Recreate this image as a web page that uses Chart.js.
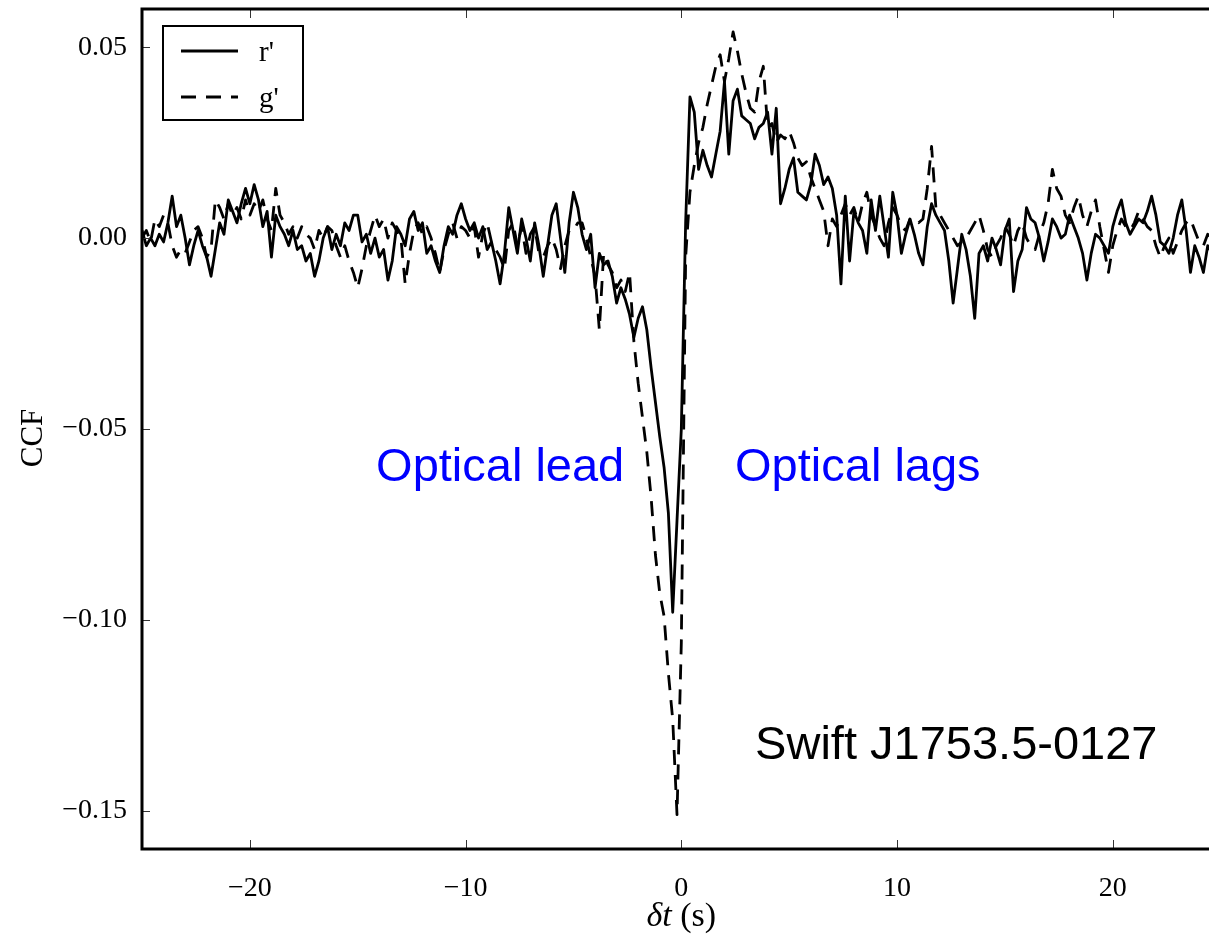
<!DOCTYPE html>
<html><head><meta charset="utf-8">
<script src="https://cdn.jsdelivr.net/npm/chart.js@4.4.0/dist/chart.umd.min.js"></script>
<style>html,body{margin:0;padding:0;background:#fff;overflow:hidden}canvas{display:block}</style>
</head><body>
<canvas id="c" width="1209" height="936"></canvas>
<script>
// Lag grid (s): uniform sampling from LAG_START in steps of LAG_STEP
const LAG_START = -25;
const LAG_STEP = 0.2;

// r' CCF values, one per lag
const rVals = [
  0.002, -0.002, 0.000, -0.002, 0.001, -0.001, 0.004, 0.011, 0.003, 0.006,
  0.000, -0.007, -0.002, 0.002, -0.002, -0.005, -0.010, -0.003, 0.004, 0.001,
  0.010, 0.007, 0.004, 0.009, 0.013, 0.009, 0.014, 0.010, 0.003, 0.007,
  -0.005, 0.006, 0.003, 0.001, -0.002, 0.002, -0.003, -0.002, -0.006, -0.004,
  -0.010, -0.006, 0.000, 0.003, -0.003, 0.001, -0.002, 0.004, 0.002, 0.006,
  0.006, -0.001, 0.001, -0.004, 0.000, -0.005, -0.003, -0.011, -0.006, 0.003,
  0.001, -0.002, 0.005, 0.007, 0.002, 0.004, -0.004, -0.002, -0.006, -0.009,
  -0.002, 0.003, 0.001, 0.006, 0.009, 0.005, 0.002, 0.004, 0.000, 0.003,
  -0.003, -0.001, -0.006, -0.012, -0.004, 0.008, 0.002, -0.004, 0.005, 0.000,
  -0.006, 0.004, -0.002, -0.010, -0.002, 0.006, 0.009, 0.000, -0.009, 0.004,
  0.012, 0.008, 0.001, -0.003, 0.001, -0.013, -0.004, -0.007, -0.006, -0.010,
  -0.017, -0.013, -0.016, -0.020, -0.026, -0.021, -0.018, -0.024, -0.034, -0.043,
  -0.052, -0.060, -0.072, -0.098, -0.074, -0.050, 0.004, 0.037, 0.033, 0.018,
  0.023, 0.019, 0.016, 0.022, 0.028, 0.041, 0.022, 0.036, 0.039, 0.032,
  0.031, 0.030, 0.026, 0.029, 0.030, 0.033, 0.022, 0.034, 0.009, 0.013,
  0.018, 0.021, 0.012, 0.011, 0.010, 0.014, 0.022, 0.019, 0.014, 0.016,
  0.013, 0.006, -0.012, 0.011, -0.006, 0.007, 0.004, 0.002, -0.004, 0.010,
  0.002, 0.011, 0.003, -0.005, 0.012, 0.006, -0.004, 0.001, 0.005, 0.001,
  -0.004, -0.007, 0.003, 0.009, 0.006, 0.004, 0.002, -0.006, -0.017, -0.008,
  0.001, -0.003, -0.010, -0.021, -0.004, -0.002, -0.006, 0.000, -0.003, -0.007,
  0.002, 0.005, -0.014, -0.006, -0.003, 0.008, 0.005, 0.004, 0.000, -0.006,
  -0.001, 0.005, 0.003, 0.000, 0.001, 0.006, 0.003, 0.000, -0.004, -0.011,
  -0.004, 0.001, 0.000, -0.002, -0.004, 0.003, 0.007, 0.010, 0.004, 0.001,
  0.003, 0.005, 0.004, 0.007, 0.011, 0.006, -0.001, -0.002, -0.004, 0.000,
  0.006, 0.010, 0.002, -0.009, -0.002, -0.005, -0.009, -0.002, -0.004
];

// g' CCF values, one per lag
const gVals = [
  0.000, 0.002, -0.001, 0.005, 0.003, 0.006, 0.004, -0.002, -0.005, -0.003,
  -0.004, -0.001, 0.002, 0.003, 0.000, -0.005, -0.003, 0.010, 0.008, 0.005,
  0.009, 0.006, 0.008, 0.005, 0.010, 0.006, 0.009, 0.007, 0.010, 0.005,
  0.002, 0.013, 0.006, 0.004, 0.001, 0.003, 0.000, 0.003, 0.001, 0.000,
  -0.003, 0.002, 0.000, 0.003, 0.002, -0.002, -0.005, -0.002, -0.006, -0.009,
  -0.013, -0.008, -0.002, 0.002, 0.006, 0.003, 0.005, 0.000, 0.004, 0.002,
  0.000, -0.012, -0.004, 0.002, 0.004, 0.001, 0.003, 0.000, -0.004, -0.009,
  -0.003, 0.001, 0.004, 0.000, 0.003, 0.002, 0.000, 0.003, -0.005, 0.001,
  0.004, -0.001, -0.003, -0.005, -0.008, 0.002, 0.004, -0.002, 0.003, -0.004,
  0.001, 0.003, -0.004, -0.005, -0.002, 0.000, -0.003, -0.008, -0.002, 0.002,
  0.002, 0.004, 0.004, 0.000, -0.005, -0.010, -0.024, -0.004, -0.007, -0.009,
  -0.013, -0.011, -0.014, -0.009, -0.027, -0.038, -0.047, -0.056, -0.068, -0.083,
  -0.093, -0.099, -0.114, -0.126, -0.151, -0.106, -0.005, 0.012, 0.019, 0.025,
  0.029, 0.035, 0.040, 0.045, 0.048, 0.041, 0.047, 0.054, 0.049, 0.043,
  0.038, 0.034, 0.033, 0.041, 0.045, 0.029, 0.030, 0.025, 0.027, 0.026,
  0.028, 0.025, 0.021, 0.019, 0.020, 0.016, 0.013, 0.010, 0.007, -0.002,
  0.005, 0.003, 0.006, 0.009, 0.006, 0.008, 0.004, 0.009, 0.012, 0.006,
  0.003, 0.000, -0.002, 0.004, 0.008, 0.006, 0.003, 0.002, 0.005, 0.005,
  0.004, 0.005, 0.013, 0.024, 0.008, 0.006, 0.004, 0.002, 0.000, -0.002,
  -0.001, 0.000, 0.002, 0.004, 0.006, 0.002, -0.003, -0.005, -0.002, 0.000,
  0.003, 0.001, -0.002, 0.002, 0.004, 0.000, -0.002, -0.003, 0.001, 0.004,
  0.009, 0.018, 0.013, 0.011, 0.006, 0.004, 0.008, 0.011, 0.006, 0.003,
  0.007, 0.010, 0.003, -0.003, -0.009, -0.002, 0.002, 0.005, 0.003, 0.002,
  0.004, 0.007, 0.005, 0.003, 0.002, -0.002, -0.005, -0.002, 0.000, -0.004,
  -0.001, 0.002, 0.004, 0.005, 0.002, -0.001, -0.002, 0.001, 0.000
];

const seriesLabels = ["r'", "g'"];
const xTicks = [-20, -10, 0, 10, 20];
const yTicks = [0.05, 0.00, -0.05, -0.10, -0.15];
const xTitleItalic = "\u03B4t";
const xTitleRest = " (s)";
const yTitle = "CCF";
const annotations = [
  { text: "Optical lead", x: -14.15, y: -0.0636, color: "#0000ff" },
  { text: "Optical lags", x: 2.49, y: -0.0636, color: "#0000ff" },
  { text: "Swift J1753.5-0127", x: 3.42, y: -0.1364, color: "#000000" }
];

const lags = rVals.map((_, i) => +(LAG_START + i * LAG_STEP).toFixed(2));
const toPts = vals => vals.map((v, i) => ({ x: lags[i], y: v }));
const minus = s => String(s).replace('-', '\u2212');

const SERIF = "'Liberation Serif', 'Times New Roman', serif";
const SANS = "'Liberation Sans', Arial, sans-serif";

const decorPlugin = {
  id: 'decor',
  afterDatasetsDraw(chart) {
    const { ctx, chartArea: a, scales: { x, y } } = chart;
    ctx.save();
    // inner tick marks
    ctx.strokeStyle = '#333';
    ctx.lineWidth = 1;
    ctx.beginPath();
    xTicks.forEach(v => {
      const px = Math.round(x.getPixelForValue(v)) + 0.5;
      ctx.moveTo(px, a.bottom); ctx.lineTo(px, a.bottom - 9);
      ctx.moveTo(px, a.top); ctx.lineTo(px, a.top + 9);
    });
    yTicks.forEach(v => {
      const py = Math.round(y.getPixelForValue(v)) + 0.5;
      ctx.moveTo(a.left, py); ctx.lineTo(a.left + 8, py);
    });
    ctx.stroke();
    // frame
    ctx.strokeStyle = '#000';
    ctx.lineWidth = 3;
    ctx.beginPath();
    ctx.moveTo(a.right + 4, a.top);
    ctx.lineTo(a.left, a.top);
    ctx.lineTo(a.left, a.bottom);
    ctx.lineTo(a.right + 4, a.bottom);
    ctx.stroke();

    // annotations
    ctx.font = "47px " + SANS;
    ctx.textAlign = 'left';
    ctx.textBaseline = 'alphabetic';
    annotations.forEach(an => {
      ctx.fillStyle = an.color;
      ctx.fillText(an.text, x.getPixelForValue(an.x), y.getPixelForValue(an.y));
    });

    // legend
    const lx = a.left + 21, ly = a.top + 17, lw = 140, lh = 94;
    ctx.fillStyle = '#fff';
    ctx.fillRect(lx, ly, lw, lh);
    ctx.strokeStyle = '#000';
    ctx.lineWidth = 2;
    ctx.strokeRect(lx, ly, lw, lh);
    chart.data.datasets.forEach((ds, i) => {
      const yy = ly + 25 + i * 46;
      ctx.beginPath();
      ctx.lineWidth = ds.borderWidth;
      ctx.setLineDash(ds.borderDash || []);
      ctx.moveTo(lx + 18, yy);
      ctx.lineTo(lx + 75, yy);
      ctx.stroke();
      ctx.setLineDash([]);
      ctx.fillStyle = '#000';
      ctx.font = "29px " + SERIF;
      ctx.textBaseline = 'middle';
      ctx.fillText(ds.label, lx + 96, yy + 2);
    });

    // axis titles
    ctx.fillStyle = '#000';
    ctx.textBaseline = 'alphabetic';
    ctx.font = "italic 34px " + SERIF;
    const w1 = ctx.measureText(xTitleItalic).width;
    ctx.font = "34px " + SERIF;
    const w2 = ctx.measureText(xTitleRest).width;
    const sx = x.getPixelForValue(0) - (w1 + w2) / 2;
    ctx.font = "italic 34px " + SERIF;
    ctx.fillText(xTitleItalic, sx, 926);
    ctx.font = "34px " + SERIF;
    ctx.fillText(xTitleRest, sx + w1, 926);

    ctx.save();
    ctx.translate(42, 438);
    ctx.rotate(-Math.PI / 2);
    ctx.textAlign = 'center';
    ctx.font = "31px " + SERIF;
    ctx.fillText(yTitle, 0, 0);
    ctx.restore();

    ctx.restore();
  }
};

new Chart(document.getElementById('c'), {
  type: 'line',
  data: {
    datasets: [
      { label: seriesLabels[0], data: toPts(rVals), borderColor: '#000', borderWidth: 2.8,
        pointRadius: 0, tension: 0, fill: false, borderJoinStyle: 'round', order: 2 },
      { label: seriesLabels[1], data: toPts(gVals), borderColor: '#000', borderWidth: 2.8,
        borderDash: [15, 10], pointRadius: 0, tension: 0, fill: false, borderJoinStyle: 'round', order: 1 }
    ]
  },
  options: {
    responsive: false,
    animation: false,
    devicePixelRatio: 1,
    layout: { padding: { top: 9, right: 0, left: 0, bottom: 0 } },
    plugins: { legend: { display: false }, tooltip: { enabled: false } },
    scales: {
      x: {
        type: 'linear', min: -25, max: 24.46,
        grid: { display: false, drawTicks: false },
        border: { display: false },
        afterBuildTicks: s => { s.ticks = xTicks.map(v => ({ value: v })); },
        afterFit: s => { s.height = 87; s.paddingLeft = 0; s.paddingRight = 0; s.paddingTop = 0; s.paddingBottom = 0; },
        ticks: {
          padding: 23, autoSkip: false, maxRotation: 0, color: '#000',
          font: { size: 28, family: SERIF },
          callback: v => minus(Math.round(v))
        }
      },
      y: {
        type: 'linear', min: -0.16, max: 0.06,
        grid: { display: false, drawTicks: false },
        border: { display: false },
        afterBuildTicks: s => { s.ticks = yTicks.map(v => ({ value: v })); },
        afterFit: s => { s.width = 142; s.paddingTop = 0; s.paddingBottom = 0; s.paddingLeft = 0; s.paddingRight = 0; },
        ticks: {
          padding: 15, autoSkip: false, color: '#000',
          font: { size: 28, family: SERIF },
          callback: v => minus(Number(v).toFixed(2))
        }
      }
    }
  },
  plugins: [decorPlugin]
});
</script>
</body></html>
